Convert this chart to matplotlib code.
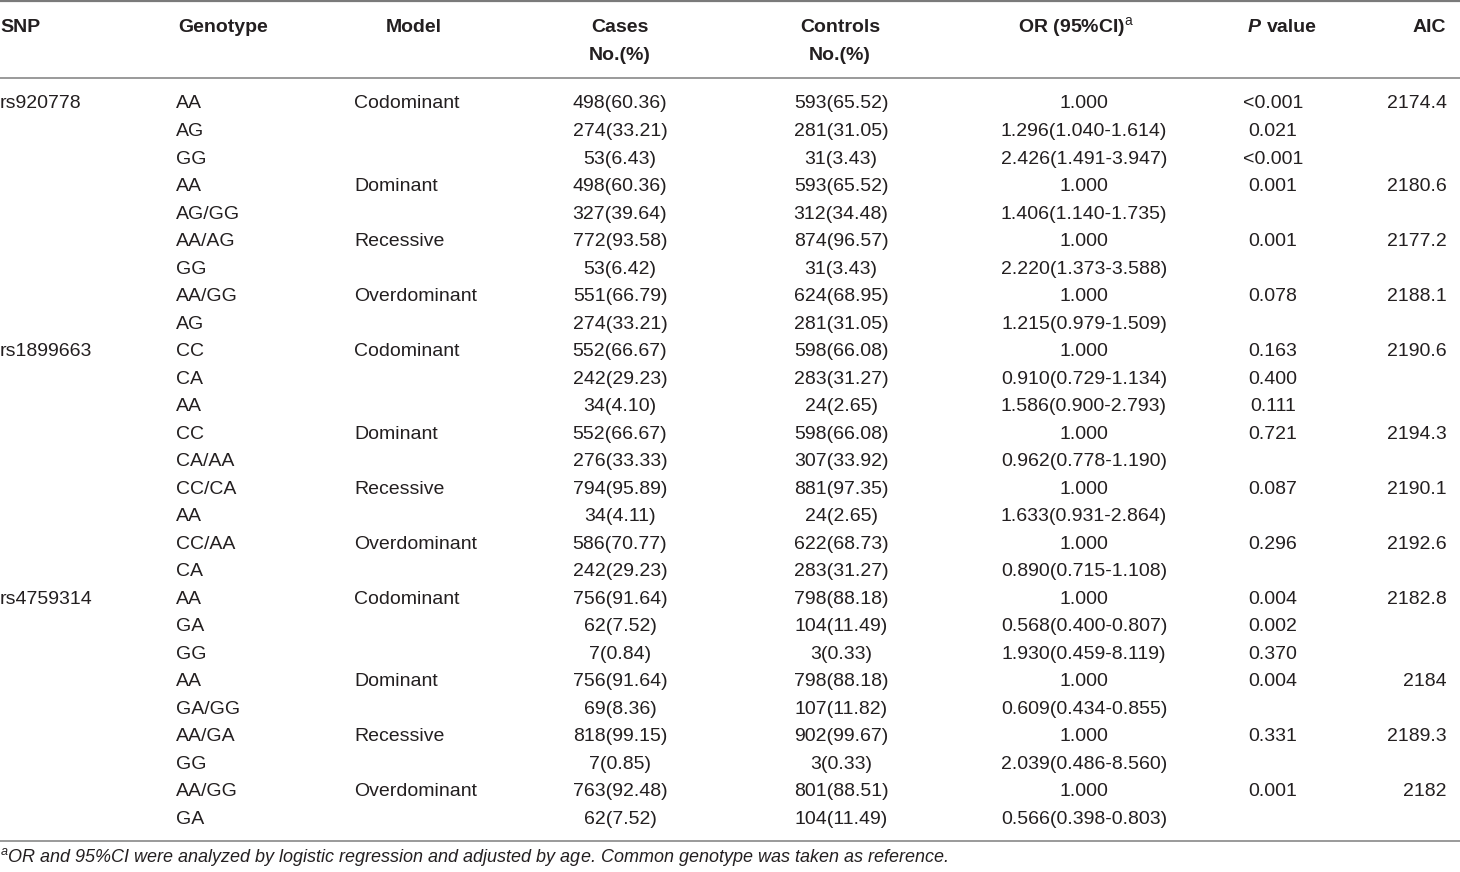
import matplotlib
matplotlib.use('Agg')
import matplotlib.pyplot as plt

# Шрифты
plt.rcParams['font.family'] = 'Liberation Sans'
plt.rcParams['mathtext.fontset'] = 'custom'
plt.rcParams['mathtext.rm'] = 'Liberation Sans'
plt.rcParams['mathtext.it'] = 'Liberation Sans:italic'
plt.rcParams['mathtext.bf'] = 'Liberation Sans:bold'

# Данные таблицы
snps = ['rs920778', 'rs1899663', 'rs4759314']
genotypes = [
    ['AA', 'AG', 'GG', 'AA', 'AG/GG', 'AA/AG', 'GG', 'AA/GG', 'AG'],
    ['CC', 'CA', 'AA', 'CC', 'CA/AA', 'CC/CA', 'AA', 'CC/AA', 'CA'],
    ['AA', 'GA', 'GG', 'AA', 'GA/GG', 'AA/GA', 'GG', 'AA/GG', 'GA'],
]
models = ['Codominant', '', '', 'Dominant', '', 'Recessive', '', 'Overdominant', '']
cases = [
    '498(60.36)', '274(33.21)', '53(6.43)', '498(60.36)', '327(39.64)', '772(93.58)', '53(6.42)', '551(66.79)', '274(33.21)',
    '552(66.67)', '242(29.23)', '34(4.10)', '552(66.67)', '276(33.33)', '794(95.89)', '34(4.11)', '586(70.77)', '242(29.23)',
    '756(91.64)', '62(7.52)', '7(0.84)', '756(91.64)', '69(8.36)', '818(99.15)', '7(0.85)', '763(92.48)', '62(7.52)',
]
controls = [
    '593(65.52)', '281(31.05)', '31(3.43)', '593(65.52)', '312(34.48)', '874(96.57)', '31(3.43)', '624(68.95)', '281(31.05)',
    '598(66.08)', '283(31.27)', '24(2.65)', '598(66.08)', '307(33.92)', '881(97.35)', '24(2.65)', '622(68.73)', '283(31.27)',
    '798(88.18)', '104(11.49)', '3(0.33)', '798(88.18)', '107(11.82)', '902(99.67)', '3(0.33)', '801(88.51)', '104(11.49)',
]
odds = [
    '1.000', '1.296(1.040-1.614)', '2.426(1.491-3.947)', '1.000', '1.406(1.140-1.735)', '1.000', '2.220(1.373-3.588)', '1.000', '1.215(0.979-1.509)',
    '1.000', '0.910(0.729-1.134)', '1.586(0.900-2.793)', '1.000', '0.962(0.778-1.190)', '1.000', '1.633(0.931-2.864)', '1.000', '0.890(0.715-1.108)',
    '1.000', '0.568(0.400-0.807)', '1.930(0.459-8.119)', '1.000', '0.609(0.434-0.855)', '1.000', '2.039(0.486-8.560)', '1.000', '0.566(0.398-0.803)',
]
pvals = [
    '<0.001', '0.021', '<0.001', '0.001', '', '0.001', '', '0.078', '',
    '0.163', '0.400', '0.111', '0.721', '', '0.087', '', '0.296', '',
    '0.004', '0.002', '0.370', '0.004', '', '0.331', '', '0.001', '',
]
aic = [
    ['2174.4', '2180.6', '2177.2', '2188.1'],
    ['2190.6', '2194.3', '2190.1', '2192.6'],
    ['2182.8', '2184', '2189.3', '2182'],
]
footnote = ('OR and 95%CI were analyzed by logistic regression and adjusted by age. '
            'Common genotype was taken as reference.')

# Оформление
W, H = 1460, 872
txt = '#231f20'
line_c = '#9a9a9a'
fs = 14

fig = plt.figure(figsize=(W / 100, H / 100), dpi=100)
ax = fig.add_axes([0, 0, 1, 1])
ax.set_xlim(0, W)
ax.set_ylim(H, 0)
ax.axis('off')

# Линии
ax.axhline(1, color='#7a7a7a', lw=1.6)
ax.axhline(78, color=line_c, lw=1.4)
ax.axhline(841, color=line_c, lw=1.4)

# Заголовок
hb = dict(fontsize=fs, fontweight='bold', color=txt, va='center')
ax.text(0, 27, 'SNP', ha='left', **hb)
ax.text(178, 27, 'Genotype', ha='left', **hb)
ax.text(414, 27, 'Model', ha='center', **hb)
ax.text(620, 27, 'Cases', ha='center', **hb)
ax.text(620, 55, 'No.(%)', ha='center', **hb)
ax.text(840, 27, 'Controls', ha='center', **hb)
ax.text(840, 55, 'No.(%)', ha='center', **hb)
ax.text(1076, 27, r'OR (95%CI)$^{\mathrm{a}}$', ha='center', **hb)
ax.text(1248, 27, 'P', ha='left', fontstyle='italic', **hb)
ax.text(1317, 27, 'value', ha='right', **hb)
ax.text(1446, 27, 'AIC', ha='right', **hb)

# Строки
y0, dy = 104, 27.5
cb = dict(fontsize=fs, color=txt, va='center')
for b, snp in enumerate(snps):
    for j in range(9):
        i = b * 9 + j
        y = y0 + i * dy
        if j == 0:
            ax.text(0, y, snp, ha='left', **cb)
        ax.text(176, y, genotypes[b][j], ha='left', **cb)
        if models[j]:
            ax.text(354, y, models[j], ha='left', **cb)
            ax.text(1447, y, aic[b][[0, 3, 5, 7].index(j)], ha='right', **cb)
        ax.text(620, y, cases[i], ha='center', **cb)
        ax.text(841, y, controls[i], ha='center', **cb)
        ax.text(1084, y, odds[i], ha='center', **cb)
        ax.text(1273, y, pvals[i], ha='center', **cb)

# Примечание
ax.text(0, 857, r'$^{\mathit{a}}$' + footnote, ha='left', va='center',
        fontsize=13.0, fontstyle='italic', color=txt)

fig.savefig('out.png', dpi=100)
